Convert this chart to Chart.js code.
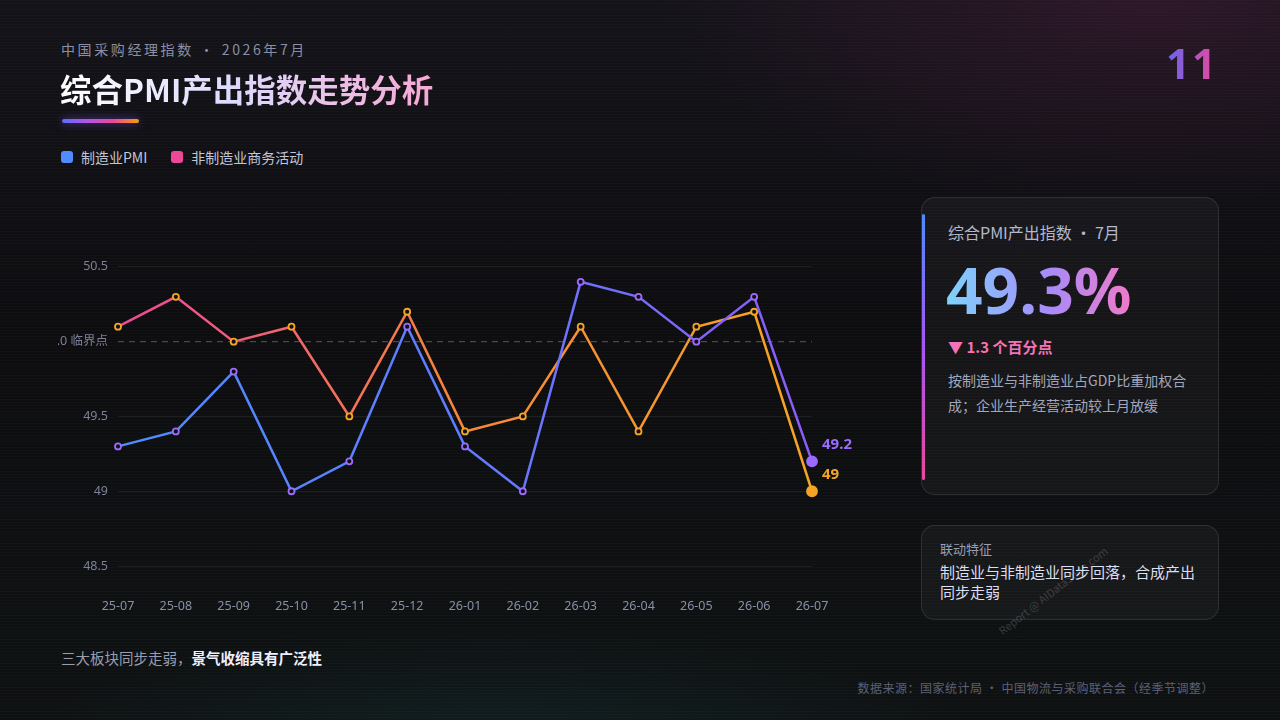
<!DOCTYPE html>
<html>
<head>
<meta charset="UTF-8">
<title>综合PMI产出指数走势分析</title>
<script src="https://cdn.jsdelivr.net/npm/chart.js@4.4.1/dist/chart.umd.min.js"></script>
<style>
  * { margin: 0; padding: 0; box-sizing: border-box; }
  body {
    width: 1280px; height: 720px; overflow: hidden;
    font-family: "Noto Sans CJK SC", "Noto Sans", sans-serif;
    background: #0e0e11;
    position: relative;
  }
  .bg {
    position: absolute; inset: 0;
    background:
      radial-gradient(ellipse 700px 300px at 1150px 0px, rgba(90,30,70,0.35), transparent 70%),
      radial-gradient(ellipse 700px 200px at 500px 760px, rgba(20,70,70,0.30), transparent 70%),
      linear-gradient(180deg, #141319 0%, #0d0d10 45%, #0e1112 100%);
  }
  .scan {
    position: absolute; inset: 0;
    background: repeating-linear-gradient(180deg, rgba(255,255,255,0.018) 0px, rgba(255,255,255,0.018) 1px, transparent 1px, transparent 3px);
  }
  .sub { position: absolute; left: 61px; top: 39px; font-size: 14px; color: #8b8fa6; letter-spacing: 2.6px; }
  .title {
    position: absolute; left: 60px; top: 65px; font-size: 31.5px; font-weight: 700;
    background: linear-gradient(90deg, #ffffff 0%, #dcdcff 45%, #f7a8d4 100%);
    -webkit-background-clip: text; background-clip: text; color: transparent;
  }
  .bar {
    position: absolute; left: 62px; top: 119px; width: 77px; height: 4px; border-radius: 2px;
    background: linear-gradient(90deg, #5b6cff, #b455e6, #ec4899, #f59e0b);
    box-shadow: 0 0 8px rgba(140,90,255,0.6);
  }
  .legend { position: absolute; left: 61px; top: 147px; display: flex; font-size: 14px; color: #c3c6d8; }
  .legend span { display: flex; align-items: center; margin-right: 24px; }
  .legend i { display: inline-block; width: 12px; height: 12px; border-radius: 3px; margin-right: 8px; }
  .num {
    position: absolute; left: 1166px; top: 34px; font-size: 42px; font-weight: 700; letter-spacing: 2px;
    background: linear-gradient(90deg, #6366f1, #ec4899);
    -webkit-background-clip: text; background-clip: text; color: transparent;
    font-family: "Noto Sans", sans-serif;
  }
  .chartbox { position: absolute; left: 58px; top: 200px; width: 804px; height: 424px; }
  .card {
    position: absolute; left: 921px; width: 298px;
    border: 1px solid rgba(255,255,255,0.10); border-radius: 14px;
    background: rgba(255,255,255,0.035);
  }
  .c1 { top: 197px; height: 298px; }
  .c2 { top: 525px; height: 95px; }
  .accent {
    position: absolute; left: 0px; top: 16px; width: 3px; height: 266px; border-radius: 2px;
    background: linear-gradient(180deg, #4f8cff, #a855f7, #ec4899);
  }
  .c1 .k { position: absolute; left: 26px; top: 22px; font-size: 16px; color: #b4b8cc; }
  .c1 .big {
    position: absolute; left: 24px; top: 52px; font-size: 64px; font-weight: 700; line-height: 80px;
    font-family: "Noto Sans", sans-serif;
    background: linear-gradient(90deg, #7dd3fc 0%, #a78bfa 55%, #f07ac8 100%);
    -webkit-background-clip: text; background-clip: text; color: transparent;
  }
  .c1 .chg { position: absolute; left: 26px; top: 138px; font-size: 15px; font-weight: 700; color: #f472b6; }
  .c1 .desc { position: absolute; left: 26px; top: 170px; width: 262px; font-size: 14px; line-height: 25px; color: #a3a7bc; }
  .c2 .k { position: absolute; left: 18px; top: 13px; font-size: 13px; color: #9a9db2; }
  .c2 .v { position: absolute; left: 18px; top: 36px; width: 268px; font-size: 15px; line-height: 20px; color: #dcdff2; }
  .note { position: absolute; left: 61px; top: 647px; font-size: 14.5px; color: #9a9db2; }
  .note b { color: #eef0ff; font-weight: 700; }
  .src { position: absolute; right: 66px; top: 679px; font-size: 12px; color: #5d6176; letter-spacing: 0.5px; }
  .wm {
    position: absolute; left: 1004px; top: 624px; font-size: 11px; color: rgba(255,255,255,0.18);
    transform: rotate(-38deg); transform-origin: left bottom; white-space: nowrap; line-height: 13px;
  }
</style>
</head>
<body>
<div class="bg"></div>
<div class="scan"></div>

<div class="sub">中国采购经理指数 · 2026年7月</div>
<div class="title">综合PMI产出指数走势分析</div>
<div class="bar"></div>
<div class="legend">
  <span><i style="background:#4f8cff"></i>制造业PMI</span>
  <span><i style="background:#ec4899"></i>非制造业商务活动</span>
</div>
<div class="num">11</div>

<div class="chartbox"><canvas id="myChart"></canvas></div>

<div class="card c1">
  <div class="accent"></div>
  <div class="k">综合PMI产出指数 · 7月</div>
  <div class="big">49.3%</div>
  <div class="chg">▼ 1.3 个百分点</div>
  <div class="desc">按制造业与非制造业占GDP比重加权合成；企业生产经营活动较上月放缓</div>
</div>
<div class="card c2">
  <div class="k">联动特征</div>
  <div class="v">制造业与非制造业同步回落，合成产出同步走弱</div>
</div>

<div class="note">三大板块同步走弱，<b>景气收缩具有广泛性</b></div>
<div class="src">数据来源：国家统计局 · 中国物流与采购联合会（经季节调整）</div>
<div class="wm">Report @ AIDataSlide.com</div>

<script>
  const months = ['25-07','25-08','25-09','25-10','25-11','25-12','26-01','26-02','26-03','26-04','26-05','26-06','26-07'];
  const mfgPMI = [49.3, 49.4, 49.8, 49.0, 49.2, 50.1, 49.3, 49.0, 50.4, 50.3, 50.0, 50.3, 49.2];
  const nonMfg = [50.1, 50.3, 50.0, 50.1, 49.5, 50.2, 49.4, 49.5, 50.1, 49.4, 50.1, 50.2, 49.0];
  const yTicks = [48.5, 49, 49.5, 50, 50.5];
  const threshold = 50;

  const seriesColors = [
    { stops: ['#4f8cff', '#5f7cff', '#8b5cf6'], point: '#9b6bff', label: '#9b6bff' },
    { stops: ['#ec4899', '#f7863a', '#f5a524'], point: '#f5a524', label: '#f5a524' }
  ];

  function lineGrad(ctx, idx) {
    const chart = ctx.chart;
    const area = chart.chartArea;
    if (!area) return seriesColors[idx].stops[0];
    const g = chart.ctx.createLinearGradient(area.left, 0, area.right, 0);
    const s = seriesColors[idx].stops;
    g.addColorStop(0, s[0]);
    g.addColorStop(0.5, s[1]);
    g.addColorStop(1, s[2]);
    return g;
  }

  function ds(label, data, idx) {
    const last = data.length - 1;
    return {
      label: label,
      data: data,
      borderColor: ctx => lineGrad(ctx, idx),
      borderWidth: 2.5,
      tension: 0,
      pointBorderColor: seriesColors[idx].point,
      pointBackgroundColor: ctx => ctx.dataIndex === last ? seriesColors[idx].point : '#111114',
      pointBorderWidth: 1.8,
      pointRadius: ctx => ctx.dataIndex === last ? 5 : 3,
      pointHoverRadius: 5
    };
  }

  const thresholdLine = {
    id: 'thresholdLine',
    beforeDatasetsDraw(chart) {
      const y = chart.scales.y.getPixelForValue(threshold);
      const a = chart.chartArea;
      const c = chart.ctx;
      c.save();
      c.strokeStyle = 'rgba(255,255,255,0.30)';
      c.lineWidth = 1;
      c.setLineDash([6, 5]);
      c.beginPath();
      c.moveTo(a.left, y);
      c.lineTo(a.right, y);
      c.stroke();
      c.restore();
    }
  };

  const endLabels = {
    id: 'endLabels',
    afterDatasetsDraw(chart) {
      const c = chart.ctx;
      chart.data.datasets.forEach((d, i) => {
        const meta = chart.getDatasetMeta(i);
        const last = d.data.length - 1;
        const pt = meta.data[last];
        c.save();
        c.font = '700 15px "Noto Sans", sans-serif';
        c.fillStyle = seriesColors[i].label;
        c.textBaseline = 'middle';
        c.fillText(String(d.data[last]), pt.x + 10, pt.y - 17);
        c.restore();
      });
    }
  };

  const ctx = document.getElementById('myChart').getContext('2d');
  const myChart = new Chart(ctx, {
    type: 'line',
    data: {
      labels: months,
      datasets: [ds('制造业PMI', mfgPMI, 0), ds('非制造业商务活动', nonMfg, 1)]
    },
    options: {
      responsive: true,
      maintainAspectRatio: false,
      animation: false,
      layout: { padding: { top: 22, right: 50, left: 0, bottom: 0 } },
      plugins: { legend: { display: false }, tooltip: { enabled: false } },
      scales: {
        x: {
          grid: { display: false },
          border: { display: false },
          ticks: { color: '#8b8fa6', font: { size: 12.5, family: '"Noto Sans", sans-serif' }, padding: 10, maxRotation: 0 }
        },
        y: {
          min: 48.4,
          max: 50.8,
          afterBuildTicks: scale => { scale.ticks = yTicks.map(v => ({ value: v })); },
          afterFit: scale => { scale.width = 60; },
          grid: {
            drawTicks: false,
            color: c => (c.tick && c.tick.value === threshold) ? 'rgba(0,0,0,0)' : 'rgba(255,255,255,0.07)'
          },
          border: { display: false },
          ticks: {
            color: '#7d8198',
            padding: 10,
            font: { size: 12.5, family: '"Noto Sans", "Noto Sans CJK SC", sans-serif' },
            callback: v => v === threshold ? '50.0 临界点' : String(v)
          }
        }
      }
    },
    plugins: [thresholdLine, endLabels]
  });
</script>
</body>
</html>
